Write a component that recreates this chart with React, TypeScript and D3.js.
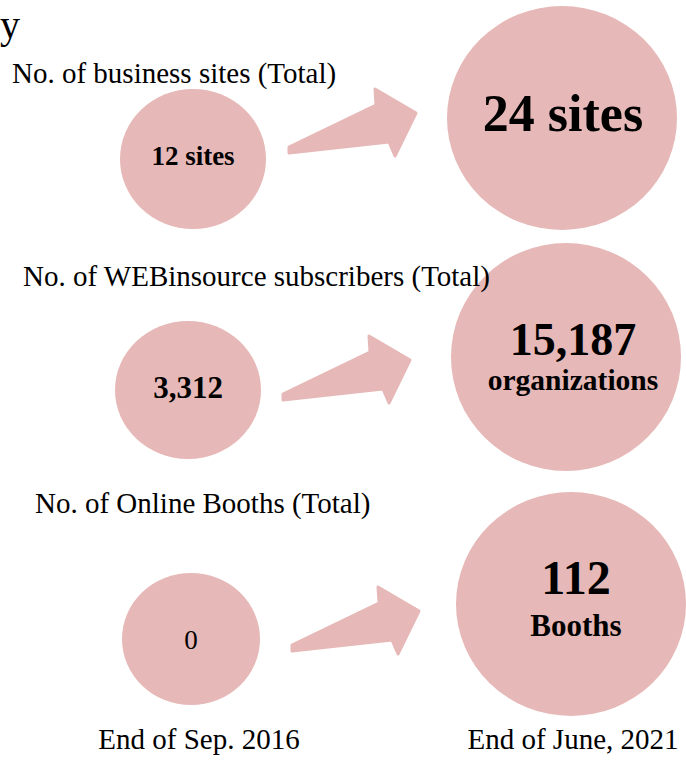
import React from "react";
import * as d3 from "d3";

// ---- data ----
const metrics = [
  "No. of business sites (Total)",
  "No. of WEBinsource subscribers (Total)",
  "No. of Online Booths (Total)",
];
const periods = ["End of Sep. 2016", "End of June, 2021"];
const startValues = ["12 sites", "3,312", "0"];
const endValues = ["24 sites", "15,187", "112"];
const endUnits = ["", "organizations", "Booths"];
const titleFragment = "y";

// ---- layout / style (not data) ----
const W = 686;
const H = 761;
const FILL = "#e6b8b7";
const FONT = "'Liberation Serif', 'Times New Roman', Times, serif";
const LAYOUT = {
  labelX: [12, 23, 35],
  labelDy: [-76, -113, -126],
  smallDx: [1, -4, -1],
  smallDy: [0, -9, 0],
  smallR: [[73, 70], [73, 69], [69, 66]],
  bigDx: [-4, 0, 5],
  bigDy: [-41, -42, -35],
  bigR: [[115, 112], [115, 114], [115, 112]],
  arrowDx: [96, 90, 99],
  arrowDy: [-9, -2, 9],
  startSize: [27, 31, 27],
  startBold: [true, true, false],
  startDy: [6, 8, 10],
  textDx: [1, 7, 5],
  endSize: [52, 46, 48],
  endDy: [13, -2, -10],
  unitSize: [0, 29.5, 31],
  unitDy: [0, 33, 32],
};

// arrow outline relative to its tail point
const arrowPts: [number, number][] = [
  [1, -3],
  [88, -45],
  [87, -61],
  [128, -37],
  [107, 6],
  [101, -8],
  [1, 3],
];

export default function App() {
  const x = d3.scalePoint<string>().domain(periods).range([192, 566]);
  const y = d3.scalePoint<string>().domain(metrics).range([159, 639]);
  const arrowLine = d3.line().curve(d3.curveLinearClosed);
  const arrowD = arrowLine(arrowPts) || "";

  return (
    <svg
      width={W}
      height={H}
      viewBox={`0 0 ${W} ${H}`}
      style={{ position: "absolute", left: 0, top: 0, display: "block", background: "#fff" }}
      fontFamily={FONT}
    >
      <text x={0} y={38} fontSize={40} fill="#000">
        {titleFragment}
      </text>
      {metrics.map((m, i) => {
        const cy = y(m)!;
        const sx = x(periods[0])! + LAYOUT.smallDx[i];
        const sy = cy + LAYOUT.smallDy[i];
        const bx = x(periods[1])! + LAYOUT.bigDx[i];
        const by = cy + LAYOUT.bigDy[i];
        const ax = x(periods[0])! + LAYOUT.arrowDx[i];
        const ay = cy + LAYOUT.arrowDy[i];
        const tx = bx + LAYOUT.textDx[i];
        return (
          <g key={m}>
            <ellipse cx={sx} cy={sy} rx={LAYOUT.smallR[i][0]} ry={LAYOUT.smallR[i][1]} fill={FILL} />
            <ellipse cx={bx} cy={by} rx={LAYOUT.bigR[i][0]} ry={LAYOUT.bigR[i][1]} fill={FILL} />
            <path
              d={arrowD}
              transform={`translate(${ax},${ay})`}
              fill={FILL}
              stroke={FILL}
              strokeWidth={3}
              strokeLinejoin="round"
            />
            <text
              x={sx}
              y={sy + LAYOUT.startDy[i]}
              textAnchor="middle"
              fontSize={LAYOUT.startSize[i]}
              fontWeight={LAYOUT.startBold[i] ? "bold" : "normal"}
              fill="#000"
            >
              {startValues[i]}
            </text>
            <text
              x={tx}
              y={by + LAYOUT.endDy[i]}
              textAnchor="middle"
              fontSize={LAYOUT.endSize[i]}
              fontWeight="bold"
              fill="#000"
            >
              {endValues[i]}
            </text>
            {endUnits[i] && (
              <text
                x={tx}
                y={by + LAYOUT.unitDy[i]}
                textAnchor="middle"
                fontSize={LAYOUT.unitSize[i]}
                fontWeight="bold"
                fill="#000"
              >
                {endUnits[i]}
              </text>
            )}
          </g>
        );
      })}
      {metrics.map((m, i) => (
        <text key={"lbl" + i} x={LAYOUT.labelX[i]} y={y(m)! + LAYOUT.labelDy[i]} fontSize={29} fill="#000">
          {m}
        </text>
      ))}
      {periods.map((p) => (
        <text key={p} x={x(p)! + 7} y={749} textAnchor="middle" fontSize={29} fill="#000">
          {p}
        </text>
      ))}
    </svg>
  );
}
